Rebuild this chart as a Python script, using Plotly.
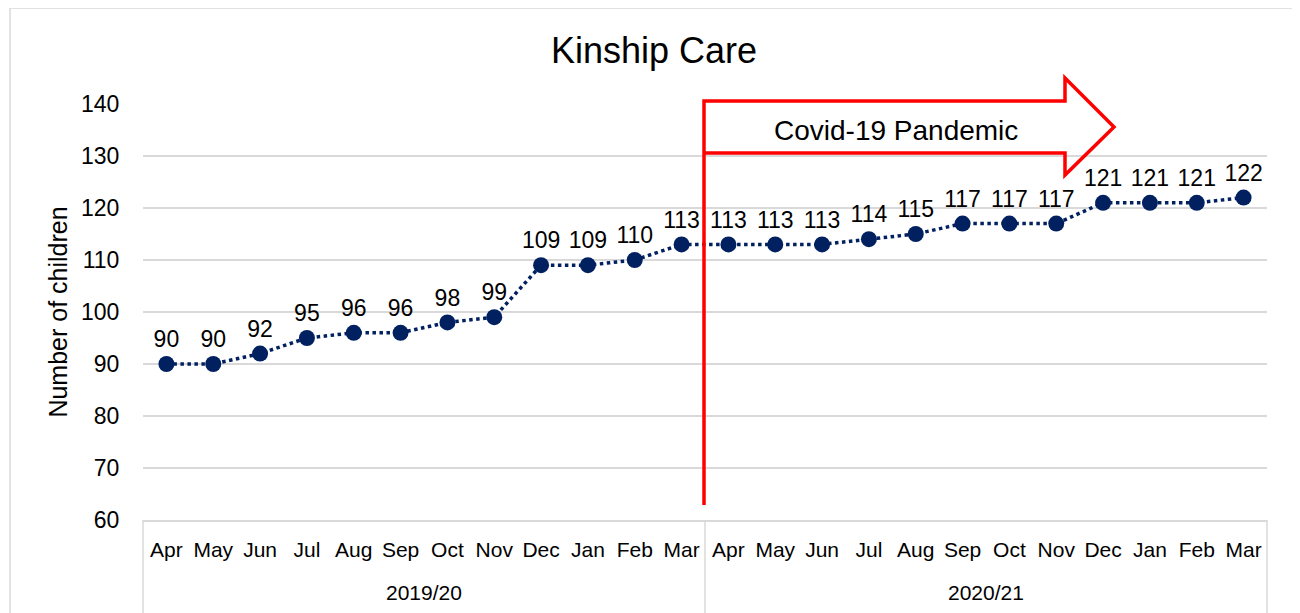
import plotly.graph_objects as go

FONT = "Liberation Sans, Arial, sans-serif"
NAVY = "#002060"
RED = "#FF0000"
GRID = "#D9D9D9"

years = ["2019/20", "2020/21"]
months = ["Apr", "May", "Jun", "Jul", "Aug", "Sep", "Oct", "Nov", "Dec", "Jan", "Feb", "Mar"] * 2
children = [90, 90, 92, 95, 96, 96, 98, 99, 109, 109, 110, 113,
            113, 113, 113, 114, 115, 117, 117, 117, 121, 121, 121, 122]
idx = list(range(len(children)))

fig = go.Figure(go.Scatter(
    x=idx, y=children,
    mode="lines+markers+text",
    line=dict(color=NAVY, width=3.5, dash="dot"),
    marker=dict(color=NAVY, size=16),
    text=[str(v) for v in children], textposition="top center",
    textfont=dict(size=23, color="#000000", family=FONT),
    cliponaxis=False, showlegend=False,
))

# страница: область построения 143..1267 по x, 104..520 по y (с учётом отступа body 8px)
def px(x):
    return (x - 143) / 1124


def py(y):
    return (520 - y) / 416


# красная стрелка "Covid-19"
arrow = (f"M {px(704)} {py(505)} L {px(704)} {py(101)} L {px(1065)} {py(101)} "
         f"L {px(1065)} {py(78)} L {px(1114)} {py(127)} L {px(1065)} {py(175)} "
         f"L {px(1065)} {py(153)} L {px(704)} {py(153)}")
fig.add_shape(type="path", path=arrow, xref="paper", yref="paper",
              line=dict(color=RED, width=3.5), fillcolor="rgba(0,0,0,0)")
fig.add_annotation(text="Covid-19 Pandemic", x=px(896), y=py(130), xref="paper", yref="paper",
                   xanchor="center", yanchor="middle", showarrow=False,
                   font=dict(size=28, color="#000000", family=FONT))

# подписи финансовых лет
for i, yr in enumerate(years):
    fig.add_annotation(text=yr, x=i * 12 + 5.5, y=py(592), xref="x", yref="paper",
                       xanchor="center", yanchor="middle", showarrow=False,
                       font=dict(size=21, color="#000000", family=FONT))

# рамка нижней оси и общая рамка
bottom = py(616)
for xp in (143, 705, 1267):
    fig.add_shape(type="line", xref="paper", yref="paper", x0=px(xp), x1=px(xp),
                  y0=0, y1=bottom, line=dict(color=GRID, width=1.5))
fig.add_shape(type="rect", xref="paper", yref="paper", x0=px(10), x1=px(1297),
              y0=py(640), y1=py(8), line=dict(color=GRID, width=1.5))

fig.update_layout(
    width=1292, height=605,
    margin=dict(l=135, r=33, t=96, b=93),
    paper_bgcolor="white", plot_bgcolor="white",
    font=dict(family=FONT, color="#000000"),
    title=dict(text="Kinship Care", x=0.5, xref="container", xanchor="center",
               y=1 - 42 / 605, yanchor="middle",
               font=dict(size=36, family=FONT, color="#000000")),
)
fig.update_xaxes(range=[-0.5, 23.5], tickvals=idx, ticktext=months,
                 showgrid=False, showline=True, linecolor=GRID, linewidth=1.5, zeroline=False,
                 ticks="outside", ticklen=10, tickcolor="rgba(0,0,0,0)",
                 tickfont=dict(size=21, family=FONT, color="#000000"))
fig.update_yaxes(range=[60, 140], dtick=10, showgrid=True, gridcolor=GRID, gridwidth=1.5,
                 zeroline=False, showline=False, ticks="outside", ticklen=18,
                 tickcolor="rgba(0,0,0,0)",
                 tickfont=dict(size=23, family=FONT, color="#000000"),
                 title=dict(text="Number of children", font=dict(size=25, family=FONT, color="#000000"),
                            standoff=6))

fig.write_html("out.html")
